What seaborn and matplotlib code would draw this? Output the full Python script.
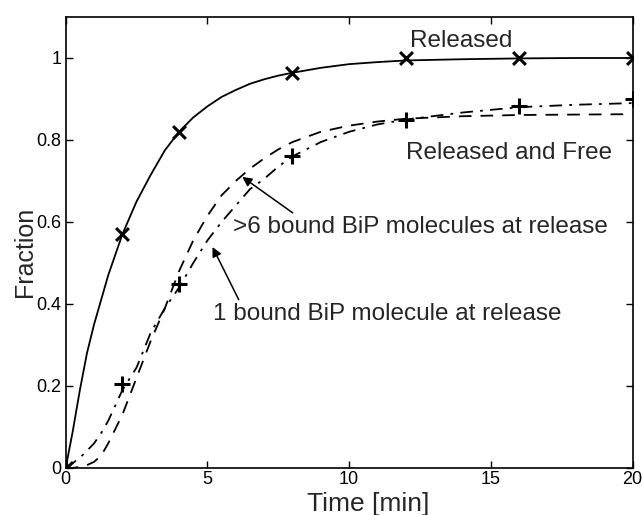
import numpy as np
import pandas as pd
import matplotlib
matplotlib.use("Agg")
import matplotlib.pyplot as plt
import seaborn as sns

# ---- data ----
curve_t = [0, 0.25, 0.5, 0.75, 1, 1.25, 1.5, 2, 2.5, 3, 3.5, 4, 4.5, 5, 5.5, 6, 6.5, 7, 7.5, 8,
           9, 10, 11, 12, 14, 16, 18, 20]
released_curve = [0, 0.09, 0.19, 0.28, 0.35, 0.41, 0.47, 0.57, 0.65, 0.715, 0.775, 0.82, 0.855,
                  0.882, 0.905, 0.922, 0.937, 0.948, 0.957, 0.964, 0.976, 0.985, 0.99, 0.994,
                  0.997, 0.999, 1.0, 1.0]
many_bip_curve = [0, 0.0, 0.003, 0.007, 0.015, 0.03, 0.06, 0.13, 0.22, 0.31, 0.39, 0.48, 0.555,
                  0.615, 0.665, 0.70, 0.73, 0.755, 0.777, 0.795, 0.82, 0.835, 0.845, 0.852,
                  0.858, 0.861, 0.862, 0.863]
one_bip_curve = [0, 0.012, 0.025, 0.042, 0.06, 0.085, 0.115, 0.19, 0.245, 0.33, 0.39, 0.44, 0.50,
                 0.555, 0.60, 0.64, 0.68, 0.705, 0.735, 0.76, 0.795, 0.82, 0.838, 0.85,
                 0.867, 0.88, 0.886, 0.89]

obs_t = [0, 2, 4, 8, 12, 16, 20]
released_obs = [0, 0.57, 0.82, 0.963, 1.0, 1.0, 1.0]
free_obs = [0, 0.205, 0.45, 0.76, 0.848, 0.883, 0.90]

x_ticks = [0, 5, 10, 15, 20]
y_ticks = [0, 0.2, 0.4, 0.6, 0.8, 1.0]
y_tick_labels = ["0", "0.2", "0.4", "0.6", "0.8", "1"]

sns.set_style("ticks")
plt.rcParams['font.family'] = ['Liberation Sans', 'DejaVu Sans']

W, H = 642, 515
fig = plt.figure(figsize=(W / 100, H / 100), dpi=100)
left_px, right_px, top_px, bottom_px = 65.7, 632.5, 17, 468
ax = fig.add_axes([left_px / W, 1 - bottom_px / H,
                   (right_px - left_px) / W, (bottom_px - top_px) / H])

curves = pd.DataFrame({"t": curve_t, "released": released_curve,
                       "many": many_bip_curve, "one": one_bip_curve})
obs = pd.DataFrame({"t": obs_t, "released": released_obs, "free": free_obs})

sns.lineplot(data=curves, x="t", y="released", ax=ax, color="black", lw=1.3)
sns.lineplot(data=curves, x="t", y="many", ax=ax, color="black", lw=1.3)
ax.lines[-1].set_dashes([7, 5])
sns.lineplot(data=curves, x="t", y="one", ax=ax, color="black", lw=1.3)
ax.lines[-1].set_dashes([7, 4, 1.5, 4])

sns.scatterplot(data=obs, x="t", y="released", ax=ax, marker="x", s=85,
                color="black", linewidth=2.2, zorder=5)
sns.scatterplot(data=obs, x="t", y="free", ax=ax, marker="+", s=130,
                color="black", linewidth=2.2, zorder=5)

ax.set_xlim(0, 20)
ax.set_ylim(0, 1.1)
ax.set_xticks(x_ticks)
ax.set_xticklabels([str(v) for v in x_ticks])
ax.set_yticks(y_ticks)
ax.set_yticklabels(y_tick_labels)
ax.tick_params(direction="in", length=5, width=1, top=True, right=True,
               labelsize=13, pad=3, color="black", labelcolor="black")
ax.tick_params(axis="x", pad=2)
for s in ax.spines.values():
    s.set_visible(True)
    s.set_color("black")
    s.set_linewidth(1.2)

axw = right_px - left_px
axh = bottom_px - top_px
ax.set_xlabel("Time [min]", fontsize=19)
ax.xaxis.label.set_va("baseline")
ax.xaxis.set_label_coords((368 - left_px) / axw, -(511.5 - bottom_px) / axh)
ax.set_ylabel("Fraction", fontsize=18)
ax.yaxis.set_label_coords(-(left_px - 37) / axw, (bottom_px - 252) / axh)

fs = 17.5
ax.text(12.15, 1.027, "Released", fontsize=fs, ha="left", va="baseline")
ax.text(12.0, 0.754, "Released and Free", fontsize=fs, ha="left", va="baseline")
ax.annotate(">6 bound BiP molecules at release", xy=(6.23, 0.71), xytext=(5.92, 0.573),
            fontsize=fs, ha="left", va="baseline",
            arrowprops=dict(arrowstyle="-|>", color="black", lw=1.1, mutation_scale=14,
                            shrinkA=0, shrinkB=0, relpos=(0.17, 1.0)))
ax.annotate("1 bound BiP molecule at release", xy=(5.18, 0.539), xytext=(5.18, 0.361),
            fontsize=fs, ha="left", va="baseline",
            arrowprops=dict(arrowstyle="-|>", color="black", lw=1.1, mutation_scale=14,
                            shrinkA=0, shrinkB=0, relpos=(0.08, 1.0)))

fig.savefig("out.png", dpi=100)
